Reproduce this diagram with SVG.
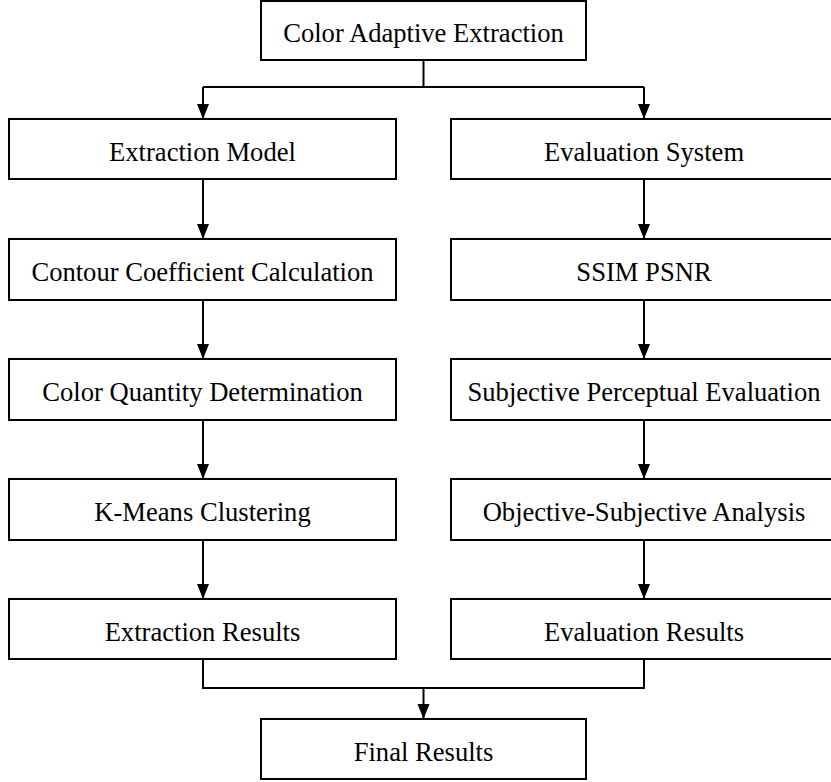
<svg xmlns="http://www.w3.org/2000/svg" width="831" height="782" viewBox="0 0 831 782">
<defs>
<style>
.box{fill:#fff;stroke:#000;stroke-width:2}
.lbl{font-family:"Liberation Serif","Times New Roman",serif;font-size:26.6px;fill:#000;text-anchor:middle}
.ln{fill:none;stroke:#000;stroke-width:2}
</style>
</defs>
<rect width="831" height="782" fill="#fff"/>
<g id="connectors">
<path class="ln" d="M423.5,60 V87 M203,87 H644"/>
<path class="ln" d="M203,87 V118"/>
<path class="ln" d="M644,87 V118"/>
<path class="ln" d="M203,179 V238"/>
<path class="ln" d="M203,300 V358"/>
<path class="ln" d="M203,420 V478"/>
<path class="ln" d="M203,540 V598"/>
<path class="ln" d="M644,179 V238"/>
<path class="ln" d="M644,300 V358"/>
<path class="ln" d="M644,420 V478"/>
<path class="ln" d="M644,540 V598"/>
<path class="ln" d="M203,659 V688 H644 V659"/>
<path class="ln" d="M423.5,688 V718"/>
<g fill="#000">
<path d="M197,104 L209,104 L203,119 Z"/>
<path d="M638,104 L650,104 L644,119 Z"/>
<path d="M197,224 L209,224 L203,239 Z"/>
<path d="M197,344 L209,344 L203,359 Z"/>
<path d="M197,464 L209,464 L203,479 Z"/>
<path d="M197,584 L209,584 L203,599 Z"/>
<path d="M638,224 L650,224 L644,239 Z"/>
<path d="M638,344 L650,344 L644,359 Z"/>
<path d="M638,464 L650,464 L644,479 Z"/>
<path d="M638,584 L650,584 L644,599 Z"/>
<path d="M417.5,704 L429.5,704 L423.5,719 Z"/>
</g>
</g>
<g id="n-top"><rect class="box" x="261" y="1" width="325" height="59"/><text class="lbl" x="423.5" y="42">Color Adaptive Extraction</text></g>
<g id="n-l1"><rect class="box" x="9" y="119" width="387" height="60"/><text class="lbl" x="202.5" y="161">Extraction Model</text></g>
<g id="n-l2"><rect class="box" x="9" y="239" width="387" height="61"/><text class="lbl" x="202.5" y="281">Contour Coefficient Calculation</text></g>
<g id="n-l3"><rect class="box" x="9" y="359" width="387" height="61"/><text class="lbl" x="202.5" y="401">Color Quantity Determination</text></g>
<g id="n-l4"><rect class="box" x="9" y="479" width="387" height="61"/><text class="lbl" x="202.5" y="521">K-Means Clustering</text></g>
<g id="n-l5"><rect class="box" x="9" y="599" width="387" height="60"/><text class="lbl" x="202.5" y="641">Extraction Results</text></g>
<g id="n-r1"><rect class="box" x="451" y="119" width="386" height="60"/><text class="lbl" x="644" y="161">Evaluation System</text></g>
<g id="n-r2"><rect class="box" x="451" y="239" width="386" height="61"/><text class="lbl" x="644" y="281">SSIM PSNR</text></g>
<g id="n-r3"><rect class="box" x="451" y="359" width="386" height="61"/><text class="lbl" x="644" y="401">Subjective Perceptual Evaluation</text></g>
<g id="n-r4"><rect class="box" x="451" y="479" width="386" height="61"/><text class="lbl" x="644" y="521">Objective-Subjective Analysis</text></g>
<g id="n-r5"><rect class="box" x="451" y="599" width="386" height="60"/><text class="lbl" x="644" y="641">Evaluation Results</text></g>
<g id="n-final"><rect class="box" x="261" y="719" width="325" height="60"/><text class="lbl" x="423.5" y="761">Final Results</text></g>
</svg>
